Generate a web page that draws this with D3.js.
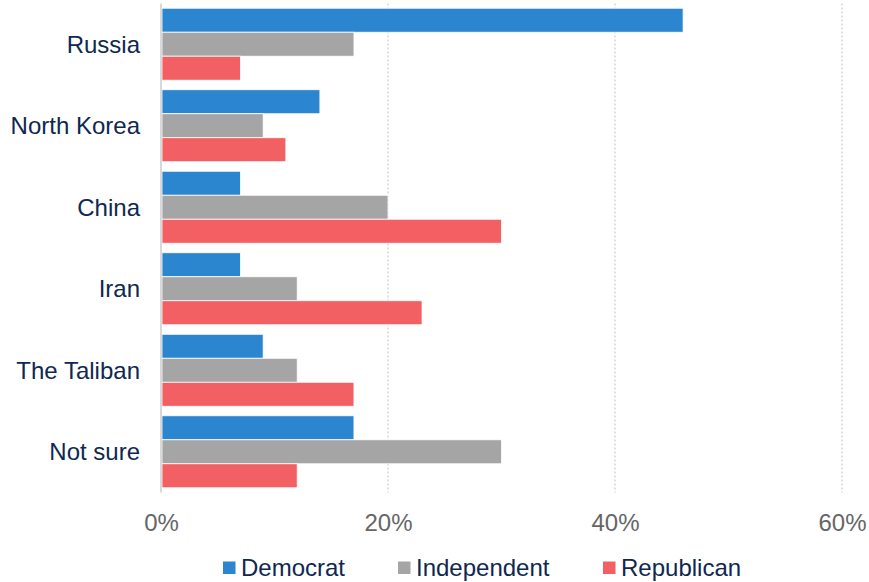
<!DOCTYPE html>
<html><head><meta charset="utf-8">
<script src="https://cdn.jsdelivr.net/npm/d3@7"></script>
<style>body{margin:0;background:#fff}svg{display:block;font-family:"Liberation Sans",Arial,sans-serif}</style>
</head><body><svg id="c" width="869" height="582"></svg>
<script>
const categories = ["Russia","North Korea","China","Iran","The Taliban","Not sure"];
const seriesNames = ["Democrat","Independent","Republican"];
const democrat = [46,14,7,7,9,17];
const independent = [17,9,20,12,12,30];
const republican = [7,11,30,23,17,12];
const tickValues = [0,20,40,60];
const colors = ["#2b86cf","#a5a5a5","#f36063"];
const seriesValues = [democrat, independent, republican];

const FONT = "'Liberation Sans', Arial, sans-serif";
const FS = 24;
const svg = d3.select("#c");
const x = d3.scaleLinear().domain([0,60]).range([161,842]);
const y = d3.scaleBand().domain(categories).range([3.5,492.5]).paddingInner(0.117).paddingOuter(0.058);
const ys = d3.scaleBand().domain(seriesNames).range([0,y.bandwidth()]);

// gridlines
svg.append("g").selectAll("line").data(tickValues.filter(d=>d>0)).join("line")
  .attr("x1",d=>x(d)).attr("x2",d=>x(d)).attr("y1",3.5).attr("y2",492.5)
  .attr("stroke","#d0d0d0").attr("stroke-width",1.3).attr("stroke-dasharray","2,2");

// bars
const g = svg.append("g");
categories.forEach((c,i)=>{
  seriesNames.forEach((s,j)=>{
    g.append("rect").attr("x",x(0)+1).attr("y",y(c)+ys(s))
      .attr("width",x(seriesValues[j][i])-x(0)-1).attr("height",ys.bandwidth())
      .attr("fill",colors[j]).attr("stroke","#fff").attr("stroke-width",0.8);
  });
});

// axis line
svg.append("line").attr("x1",x(0)).attr("x2",x(0)).attr("y1",3.5).attr("y2",492.5)
  .attr("stroke","#d9d9d9").attr("stroke-width",2);

// category labels
const yAxis = d3.axisLeft(y).tickSize(0).tickPadding(21);
const ya = svg.append("g").attr("transform",`translate(${x(0)},0)`).call(yAxis)
  .attr("font-family",FONT).attr("font-size",FS);
ya.select(".domain").remove();
ya.selectAll("text").attr("fill","#0f2850").attr("dy","0.35em");

// x tick labels
const xAxis = d3.axisBottom(x).tickValues(tickValues).tickFormat(d=>d+"%").tickSize(0).tickPadding(0);
const xa = svg.append("g").call(xAxis)
  .attr("font-family",FONT).attr("font-size",FS);
xa.select(".domain").remove();
xa.selectAll("text").attr("fill","#666666").attr("y",531).attr("dy",0);

// legend
const legX = [223,398,603];
const lg = svg.append("g").attr("font-family",FONT).attr("font-size",FS);
seriesNames.forEach((s,j)=>{
  lg.append("rect").attr("x",legX[j]).attr("y",561.5).attr("width",12.5).attr("height",12.5).attr("fill",colors[j]);
  lg.append("text").attr("x",legX[j]+18).attr("y",576).attr("fill","#0f2850").text(s);
});
</script></body></html>
